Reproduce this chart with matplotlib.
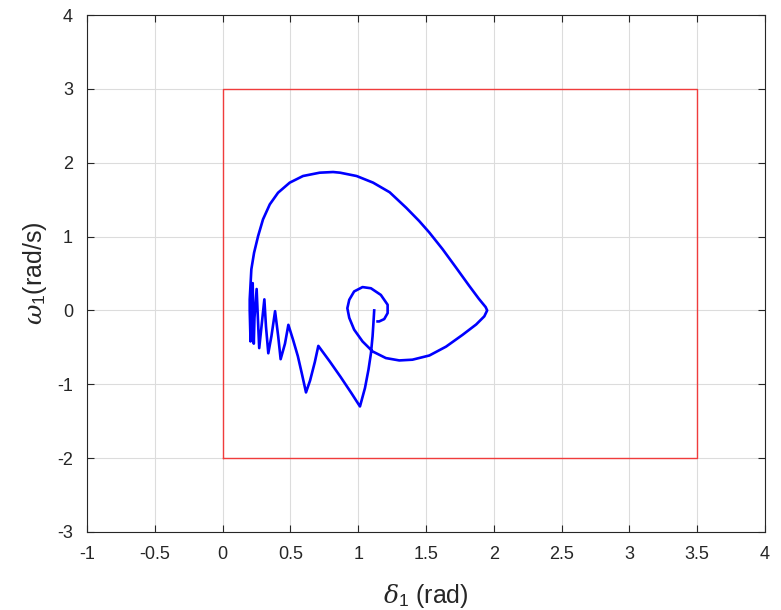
import matplotlib
matplotlib.use("Agg")
import matplotlib.pyplot as plt

plt.rcParams['font.family'] = ['Liberation Sans', 'DejaVu Sans']
plt.rcParams['mathtext.fontset'] = 'custom'
plt.rcParams['mathtext.rm'] = 'Liberation Sans'
plt.rcParams['mathtext.it'] = 'DejaVu Serif:italic'
plt.rcParams['axes.unicode_minus'] = False

# trajectory (rotor angle / speed)
delta = [1.118, 1.112, 1.106, 1.094, 1.076, 1.05, 1.013,
         0.95, 0.87, 0.79, 0.706,
         0.68, 0.645, 0.615,
         0.585, 0.555, 0.52, 0.485,
         0.46, 0.428,
         0.41, 0.387,
         0.36, 0.337,
         0.32, 0.308,
         0.285, 0.27,
         0.26, 0.251,
         0.235, 0.23,
         0.225, 0.222,
         0.21, 0.206,
         0.2, 0.2, 0.212, 0.232, 0.262, 0.298, 0.348, 0.409, 0.495, 0.593,
         0.716, 0.815, 0.866, 0.988, 1.11, 1.232, 1.354, 1.45, 1.524, 1.622,
         1.72, 1.817, 1.89, 1.94, 1.951,
         1.93, 1.87, 1.77, 1.648, 1.525, 1.40, 1.303, 1.204, 1.106, 1.032,
         0.97, 0.934, 0.92, 0.934, 0.97, 1.032, 1.094, 1.167, 1.217, 1.217,
         1.192, 1.155, 1.143]
omega = [0.0, -0.18, -0.35, -0.58, -0.80, -1.05, -1.30,
         -1.12, -0.90, -0.69, -0.48,
         -0.70, -0.95, -1.11,
         -0.86, -0.62, -0.40, -0.195,
         -0.45, -0.66,
         -0.35, -0.01,
         -0.35, -0.58,
         -0.22, 0.15,
         -0.25, -0.51,
         -0.10, 0.29,
         -0.10, -0.45,
         -0.05, 0.37,
         -0.05, -0.42,
         0.0, 0.15, 0.557, 0.78, 1.008, 1.233, 1.436, 1.594, 1.73, 1.82,
         1.865, 1.874, 1.865, 1.82, 1.73, 1.60, 1.39, 1.21, 1.056, 0.83,
         0.584, 0.337, 0.157, 0.045, 0.0,
         -0.08, -0.19, -0.33, -0.49, -0.61, -0.667, -0.677, -0.645, -0.555, -0.42,
         -0.26, -0.10, 0.03, 0.144, 0.257, 0.316, 0.30, 0.21, 0.077, -0.036,
         -0.117, -0.149, -0.149]

# stability region box
box_x = [0, 3.5, 3.5, 0, 0]
box_y = [-2, -2, 3, 3, -2]

xticks = [-1, -0.5, 0, 0.5, 1, 1.5, 2, 2.5, 3, 3.5, 4]
xticklabels = ['-1', '-0.5', '0', '0.5', '1', '1.5', '2', '2.5', '3', '3.5', '4']
yticks = [-3, -2, -1, 0, 1, 2, 3, 4]

fig = plt.figure(figsize=(7.81, 6.10), dpi=100)
ax = fig.add_axes([87 / 781, 78 / 610, 678 / 781, 517 / 610])

ax.plot(box_x, box_y, color='#f03c3c', linewidth=1.0)
ax.plot(delta, omega, color='#0000ff', linewidth=1.9)

ax.set_xlim(-1, 4)
ax.set_ylim(-3, 4)
ax.set_xticks(xticks)
ax.set_xticklabels(xticklabels)
ax.set_yticks(yticks)
ax.grid(True, color='#dcdcdc', linewidth=0.8)
ax.set_axisbelow(True)
ax.tick_params(direction='in', top=True, right=True, length=5,
               colors='#262626', labelsize=13, pad=10)
for s in ax.spines.values():
    s.set_color('#262626')
    s.set_linewidth(0.8)

ax.set_xlabel(r'$\delta_1$ (rad)', fontsize=18, color='#262626', labelpad=14)
ax.set_ylabel(r'$\omega_1$(rad/s)', fontsize=18, color='#262626', labelpad=6)

fig.savefig('out.png', dpi=100)
